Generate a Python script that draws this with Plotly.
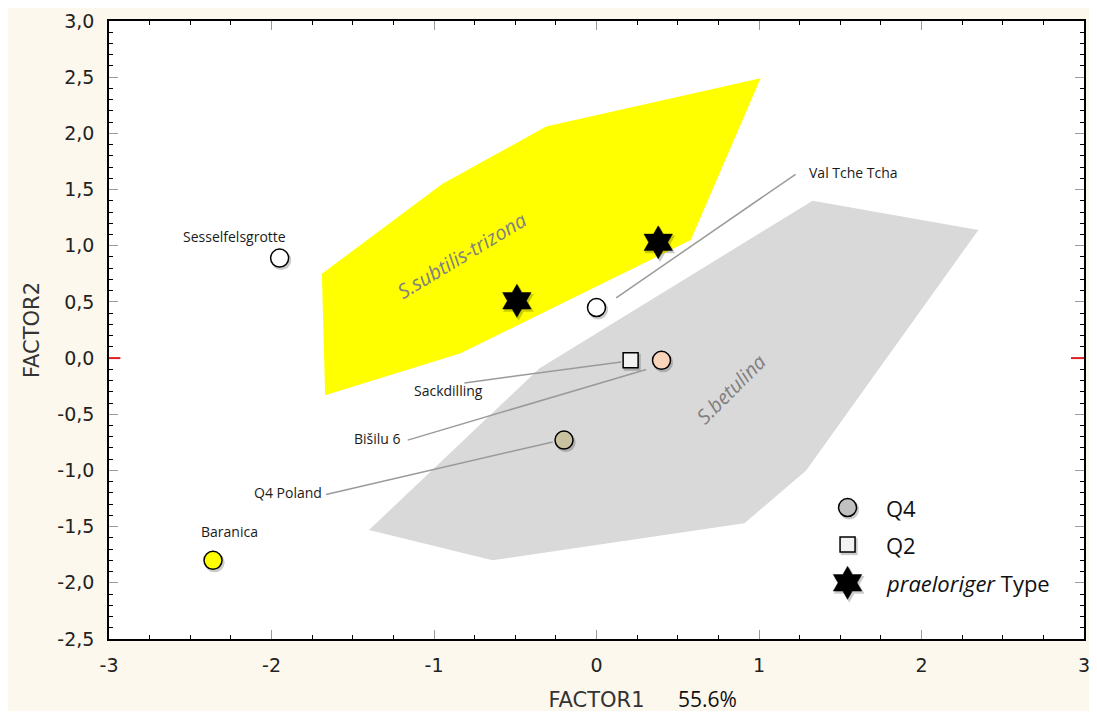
import plotly.graph_objects as go

# --- factor scores -------------------------------------------------------
circle_sites = ["Sesselfelsgrotte", "Val Tche Tcha", "Bišilu 6", "Q4 Poland", "Baranica"]
circle_x = [-1.95, 0.00, 0.40, -0.20, -2.36]
circle_y = [0.89, 0.45, -0.02, -0.73, -1.80]
circle_fill = ["#ffffff", "#ffffff", "#fbd5bb", "#c9c2a0", "#ffff00"]

square_sites = ["Sackdilling"]
square_x = [0.21]
square_y = [-0.02]

star_x = [-0.49, 0.38]
star_y = [0.51, 1.03]

# --- reference envelopes --------------------------------------------------
trizona_x = [-1.69, -1.03, -0.95, -0.31, 1.01, 0.58, -0.84, -1.67]
trizona_y = [0.75, 1.46, 1.55, 2.06, 2.49, 1.05, 0.04, -0.33]
betulina_x = [-1.40, -0.35, 1.33, 2.35, 1.29, 0.91, -0.64]
betulina_y = [-1.53, -0.09, 1.40, 1.14, -1.00, -1.47, -1.80]

# --- axis ticks -----------------------------------------------------------
x_ticks = [-3, -2, -1, 0, 1, 2, 3]
x_ticktext = ["-3", "-2", "-1", "0", "1", "2", "3"]
y_ticks = [3.0, 2.5, 2.0, 1.5, 1.0, 0.5, 0.0, -0.5, -1.0, -1.5, -2.0, -2.5]
y_ticktext = ["3,0", "2,5", "2,0", "1,5", "1,0", "0,5", "0,0",
              "-0,5", "-1,0", "-1,5", "-2,0", "-2,5"]

LABEL_FONT = dict(family="Open Sans", size=14, color="#1a1a1a")
SHADOW = "rgba(0,0,0,0.20)"
DX, DY = 0.010, -0.018  # drop-shadow offset in axis units

fig = go.Figure()

# envelopes
fig.add_trace(go.Scatter(x=betulina_x, y=betulina_y, fill="toself", mode="lines",
                         line=dict(width=0, color="#d9d9d9"), fillcolor="#d9d9d9",
                         hoverinfo="skip", showlegend=False))
fig.add_trace(go.Scatter(x=trizona_x, y=trizona_y, fill="toself", mode="lines",
                         line=dict(width=0, color="#ffff00"), fillcolor="#ffff00",
                         hoverinfo="skip", showlegend=False))


def shadowed(xs, ys, symbol, size, fill, name, text=None, line_w=1.5):
    fig.add_trace(go.Scatter(
        x=[v + DX for v in xs], y=[v + DY for v in ys], mode="markers",
        marker=dict(symbol=symbol, size=size + 2, color=SHADOW, line=dict(width=0)),
        hoverinfo="skip", showlegend=False))
    fig.add_trace(go.Scatter(
        x=xs, y=ys, mode="markers", name=name, text=text,
        marker=dict(symbol=symbol, size=size, color=fill,
                    line=dict(width=line_w, color="#000000")),
        showlegend=False))


# sites
shadowed(circle_x, circle_y, "circle", 18, circle_fill, "Q4", circle_sites)
shadowed(square_x, square_y, "square", 15, "#f2f2f2", "Q2", square_sites)
shadowed(star_x, star_y, "hexagram", 25, "#000000", "praeloriger Type", line_w=0.5)

# key (drawn inside the plotting area)
key_x = 1.545
key_y = [-1.33, -1.66, -2.00]
shadowed([key_x], [key_y[0]], "circle", 18, "#c0c0c0", "Q4")
shadowed([key_x], [key_y[1]], "square", 15, "#f2f2f2", "Q2")
shadowed([key_x], [key_y[2]], "hexagram", 25, "#000000", "praeloriger Type", line_w=0.5)
key_text = ["Q4", "Q2", "<i>praeloriger</i> Type"]

annotations = []
for t, yy in zip(key_text, key_y):
    annotations.append(dict(x=1.77, y=yy, xref="x", yref="y", text=t, showarrow=False,
                            xanchor="left", yanchor="middle",
                            font=dict(family="Open Sans", size=22, color="#111111")))

# site labels
site_labels = [
    ("Sesselfelsgrotte", -2.23, 1.08),
    ("Val Tche Tcha", 1.58, 1.65),
    ("Sackdilling", -0.91, -0.29),
    ("Bišilu 6", -1.35, -0.72),
    ("Q4 Poland", -1.90, -1.20),
    ("Baranica", -2.26, -1.54),
]
for t, xx, yy in site_labels:
    annotations.append(dict(x=xx, y=yy, xref="x", yref="y", text=t, showarrow=False,
                            xanchor="center", yanchor="middle", font=LABEL_FONT))

# envelope names
annotations.append(dict(x=-0.83, y=0.91, xref="x", yref="y", text="<i>S.subtilis-trizona</i>",
                        showarrow=False, textangle=-31,
                        font=dict(family="Open Sans", size=20, color="#808080")))
annotations.append(dict(x=0.83, y=-0.27, xref="x", yref="y", text="<i>S.betulina</i>",
                        showarrow=False, textangle=-45,
                        font=dict(family="Open Sans", size=20, color="#808080")))

# explained variance next to the x title
annotations.append(dict(x=0.614, y=-0.097, xref="paper", yref="paper", text="55.6%",
                        showarrow=False, xanchor="center", yanchor="middle",
                        font=dict(family="Open Sans", size=21, color="#111111")))

# leader lines from labels to sites
leaders = [
    (1.225, 1.636, 0.121, 0.536),
    (-0.813, -0.221, 0.152, -0.034),
    (-1.162, -0.730, 0.306, -0.101),
    (-1.664, -1.214, -0.269, -0.746),
]
shapes = [dict(type="line", xref="x", yref="y", x0=a, y0=b, x1=c, y1=d,
               line=dict(color="#9a9a9a", width=1.5), layer="above")
          for a, b, c, d in leaders]

# red zero markers on both vertical axes
shapes.append(dict(type="line", xref="x", yref="y", x0=-3.0, x1=-2.93, y0=0, y1=0,
                   line=dict(color="#e02020", width=2)))
shapes.append(dict(type="line", xref="x", yref="y", x0=2.92, x1=3.0, y0=0, y1=0,
                   line=dict(color="#e02020", width=2)))

# white page border around the cream background
shapes.append(dict(type="rect", xref="paper", yref="paper",
                   x0=(0 - 109) / 975, x1=(1097 - 109) / 975,
                   y0=(639 - 719) / 618, y1=(639 - 0) / 618,
                   line=dict(color="#ffffff", width=16), fillcolor="rgba(0,0,0,0)",
                   layer="above"))

axis_common = dict(showgrid=False, zeroline=False, showline=True, linecolor="#000000",
                   linewidth=1.5, mirror="allticks", ticks="inside", ticklen=9,
                   tickcolor="#9a9a9a", tickwidth=1, automargin=False,
                   tickfont=dict(family="DejaVu Sans", size=19, color="#222222"))

fig.update_layout(
    width=1097, height=719,
    margin=dict(l=109, r=13, t=21, b=80),
    paper_bgcolor="#fdf8ed", plot_bgcolor="#ffffff",
    showlegend=False,
    xaxis=dict(range=[-3, 3], tickvals=x_ticks, ticktext=x_ticktext,
               minor=dict(dtick=0.25, ticks="inside", ticklen=4, tickcolor="#000000"),
               ticklabelstandoff=8,
               title=dict(text="FACTOR1", standoff=18,
                          font=dict(family="DejaVu Sans", size=21, color="#333333")),
               **axis_common),
    yaxis=dict(range=[-2.5, 3.0], tickvals=y_ticks, ticktext=y_ticktext,
               minor=dict(dtick=0.1, ticks="inside", ticklen=4, tickcolor="#000000"),
               ticklabelstandoff=9,
               title=dict(text="FACTOR2", standoff=12,
                          font=dict(family="DejaVu Sans", size=21, color="#333333")),
               **axis_common),
    annotations=annotations,
    shapes=shapes,
)

fig.write_html("out.html")
